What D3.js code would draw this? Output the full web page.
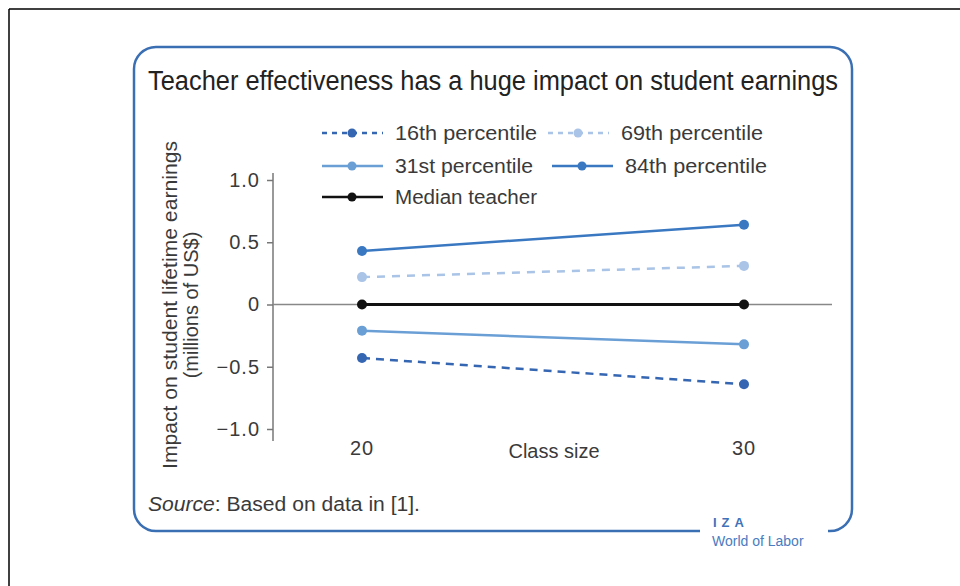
<!DOCTYPE html>
<html>
<head>
<meta charset="utf-8">
<script src="https://cdn.jsdelivr.net/npm/d3@7"></script>
<style>
  body { margin: 0; background: #fff; }
  svg { display: block; font-family: "Liberation Sans", Arial, sans-serif; }
</style>
</head>
<body>
<svg id="chart" width="960" height="586"></svg>
<script>
// data
const classSizes = [20, 30];
const yTicks = [-1.0, -0.5, 0, 0.5, 1.0];
const seriesNames = ["16th percentile", "69th percentile", "31st percentile", "84th percentile", "Median teacher"];
const p16 = [-0.43, -0.64];
const p31 = [-0.21, -0.32];
const median = [0, 0];
const p69 = [0.22, 0.31];
const p84 = [0.43, 0.64];

const series = [
  {name: seriesNames[0], values: p16, color: "#3566b2", dash: "8,6", lg: [322, 133]},
  {name: seriesNames[1], values: p69, color: "#a9c4e6", dash: "8,7", lg: [548, 133]},
  {name: seriesNames[2], values: p31, color: "#6a9fd6", dash: null, lg: [322, 166]},
  {name: seriesNames[3], values: p84, color: "#3a78c2", dash: null, lg: [552, 166]},
  {name: seriesNames[4], values: median, color: "#111", dash: null, lg: [322, 197]}
];

const svg = d3.select("#chart");
const blue = "#3b6fb4";
const ink = "#3a3a3a";

// outer frame lines
svg.append("line").attr("x1", 9).attr("x2", 9).attr("y1", 9).attr("y2", 586)
  .attr("stroke", "#000").attr("stroke-width", 1.5);
svg.append("line").attr("x1", 9).attr("x2", 960).attr("y1", 9).attr("y2", 9)
  .attr("stroke", "#000").attr("stroke-width", 1.5);

// rounded blue box, open at bottom right for the logo
const bx0 = 134, bx1 = 852, by0 = 47, by1 = 531, r = 22;
const box = d3.path();
box.moveTo(700, by1);
box.lineTo(bx0 + r, by1);
box.arcTo(bx0, by1, bx0, by1 - r, r);
box.lineTo(bx0, by0 + r);
box.arcTo(bx0, by0, bx0 + r, by0, r);
box.lineTo(bx1 - r, by0);
box.arcTo(bx1, by0, bx1, by0 + r, r);
box.lineTo(bx1, by1 - r);
box.arcTo(bx1, by1, bx1 - r, by1, r);
box.lineTo(828, by1);
svg.append("path").attr("d", box.toString())
  .attr("fill", "none").attr("stroke", blue).attr("stroke-width", 2.5);

// title
svg.append("text").attr("x", 148).attr("y", 90)
  .attr("font-family", "'Liberation Sans Narrow', 'Liberation Sans', sans-serif")
  .attr("font-size", 27).attr("fill", "#222")
  .attr("textLength", 690).attr("lengthAdjust", "spacingAndGlyphs")
  .text("Teacher effectiveness has a huge impact on student earnings");

// scales
const x = d3.scaleLinear().domain([20, 30]).range([362, 744]);
const y = d3.scaleLinear().domain([-1, 1]).range([429, 180]);

// y axis
const yAxis = d3.axisLeft(y).tickValues(yTicks).tickSize(6).tickPadding(7)
  .tickFormat(d => d === 0 ? "0" : d.toFixed(1).replace("-", "\u2212"));
const ga = svg.append("g").attr("transform", "translate(273,0)").call(yAxis);
ga.select(".domain").remove();
ga.selectAll(".tick line").attr("stroke", "#777").attr("stroke-width", 1.5);
ga.selectAll(".tick text").attr("font-size", 20).attr("fill", ink)
  .attr("letter-spacing", 1)
  .attr("font-family", "Liberation Sans, Arial, sans-serif");
svg.append("line").attr("x1", 273).attr("x2", 273).attr("y1", 173).attr("y2", 441)
  .attr("stroke", "#777").attr("stroke-width", 1.5);
// zero line
svg.append("line").attr("x1", 273).attr("x2", 832).attr("y1", y(0)).attr("y2", y(0))
  .attr("stroke", "#888").attr("stroke-width", 1.5);

// x labels
svg.selectAll(".xl").data(classSizes).join("text")
  .attr("x", d => x(d)).attr("y", 455).attr("text-anchor", "middle")
  .attr("font-size", 20).attr("letter-spacing", 1).attr("fill", ink).text(d => d);
svg.append("text").attr("x", 554).attr("y", 458).attr("text-anchor", "middle")
  .attr("font-size", 20).attr("fill", ink).attr("textLength", 91)
  .attr("lengthAdjust", "spacingAndGlyphs").text("Class size");

// y title
const yt = svg.append("text").attr("transform", "translate(177,305) rotate(-90)")
  .attr("text-anchor", "middle").attr("font-size", 20).attr("fill", ink);
yt.append("tspan").attr("x", 0).attr("dy", 0).attr("textLength", 328)
  .attr("lengthAdjust", "spacingAndGlyphs").text("Impact on student lifetime earnings");
yt.append("tspan").attr("x", 0).attr("dy", 21).text("(millions of US$)");

// lines
const line = d3.line().x((d, i) => x(classSizes[i])).y(d => y(d));
const order = [4, 1, 3, 2, 0];
const g = svg.append("g");
order.forEach(k => {
  const s = series[k];
  g.append("path").datum(s.values).attr("d", line)
    .attr("fill", "none").attr("stroke", s.color).attr("stroke-width", k === 4 ? 3 : 2.5)
    .attr("stroke-dasharray", s.dash);
  g.selectAll(null).data(s.values).join("circle")
    .attr("cx", (d, i) => x(classSizes[i])).attr("cy", d => y(d))
    .attr("r", 5).attr("fill", s.color);
});

// legend
const lg = svg.append("g");
series.forEach(s => {
  const [lx, ly] = s.lg;
  lg.append("line").attr("x1", lx).attr("x2", lx + 61).attr("y1", ly).attr("y2", ly)
    .attr("stroke", s.color).attr("stroke-width", 2.5)
    .attr("stroke-dasharray", s.dash ? "5,5" : null);
  lg.append("circle").attr("cx", lx + 30).attr("cy", ly).attr("r", 4.5).attr("fill", s.color);
  lg.append("text").attr("x", lx + 73).attr("y", ly + 7).attr("font-size", 20)
    .attr("fill", ink).attr("textLength", s.name.startsWith("31") ? 138 : 142)
    .attr("lengthAdjust", "spacingAndGlyphs").text(s.name);
});

// source
const src = svg.append("text").attr("x", 148).attr("y", 511).attr("font-size", 20)
  .attr("fill", ink).attr("textLength", 272).attr("lengthAdjust", "spacingAndGlyphs");
src.append("tspan").attr("font-style", "italic").text("Source");
src.append("tspan").text(": Based on data in [1].");

// logo
svg.append("text").attr("x", 713).attr("y", 527).attr("font-size", 13).attr("font-weight", "bold")
  .attr("fill", "#3f72b8").attr("letter-spacing", 5).text("IZA");
svg.append("text").attr("x", 712).attr("y", 546).attr("font-size", 14)
  .attr("fill", "#4a7cc0").text("World of Labor");
</script>
</body>
</html>
